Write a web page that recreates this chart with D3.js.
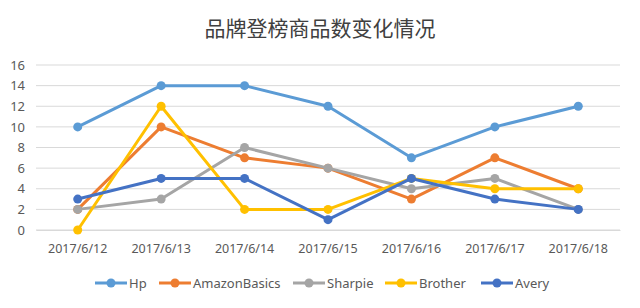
<!DOCTYPE html>
<html>
<head>
<meta charset="utf-8">
<script src="https://cdn.jsdelivr.net/npm/d3@7"></script>
<style>
  body { margin: 0; background: #fff; }
  text { font-family: "Noto Sans", "Noto Sans CJK SC", sans-serif; }
</style>
</head>
<body>
<svg id="chart"></svg>
<script>
const categories = ['2017/6/12','2017/6/13','2017/6/14','2017/6/15','2017/6/16','2017/6/17','2017/6/18'];
const hp = [10, 14, 14, 12, 7, 10, 12];
const amazonBasics = [2, 10, 7, 6, 3, 7, 4];
const sharpie = [2, 3, 8, 6, 4, 5, 2];
const brother = [0, 12, 2, 2, 5, 4, 4];
const avery = [3, 5, 5, 1, 5, 3, 2];
const yTicks = [0, 2, 4, 6, 8, 10, 12, 14, 16];

const series = [
    {name: 'Hp', values: hp, color: '#5b9bd5'},
    {name: 'AmazonBasics', values: amazonBasics, color: '#ed7d31'},
    {name: 'Sharpie', values: sharpie, color: '#a5a5a5'},
    {name: 'Brother', values: brother, color: '#ffc000'},
    {name: 'Avery', values: avery, color: '#4472c4'}
];

const w = 640, h = 308;
const m = {top: 65, right: 20, bottom: 78, left: 36};

const svg = d3.select('#chart')
    .attr('width', w)
    .attr('height', h);

// title
svg.append('text')
    .attr('x', 320)
    .attr('y', 36)
    .attr('text-anchor', 'middle')
    .style('font-family', '"Noto Sans CJK SC", sans-serif')
    .style('font-size', '21px')
    .attr('fill', '#404040')
    .text('品牌登榜商品数变化情况');

const xScale = d3.scaleBand()
    .domain(categories)
    .range([m.left, w - m.right]);

const yScale = d3.scaleLinear()
    .domain([0, 16])
    .range([h - m.bottom, m.top]);

// grid lines
svg.append('g')
    .selectAll('line')
    .data(yTicks)
    .join('line')
        .attr('x1', m.left)
        .attr('x2', w - m.right)
        .attr('y1', d => yScale(d))
        .attr('y2', d => yScale(d))
        .attr('stroke', '#d9d9d9')
        .attr('stroke-width', 1);

// y axis labels
const yAxis = d3.axisLeft(yScale).tickValues(yTicks).tickSize(0).tickPadding(11);
const gy = svg.append('g')
    .attr('transform', `translate(${m.left},0)`)
    .call(yAxis);
gy.select('.domain').remove();
gy.selectAll('text').style('font-size', '13px').attr('fill', '#595959');

// x axis
const xAxis = d3.axisBottom(xScale).tickSize(0).tickPadding(14);
const gx = svg.append('g')
    .attr('transform', `translate(0,${h - m.bottom})`)
    .call(xAxis);
gx.select('.domain').attr('stroke', '#d9d9d9');
gx.selectAll('text').style('font-size', '12.5px').attr('fill', '#595959');

// lines + markers
const line = d3.line()
    .x((v, i) => xScale(categories[i]) + xScale.bandwidth() / 2)
    .y(v => yScale(v));

series.forEach(s => {
    svg.append('path')
        .datum(s.values)
        .attr('d', line)
        .attr('fill', 'none')
        .attr('stroke', s.color)
        .attr('stroke-width', 3)
        .attr('stroke-linejoin', 'round');
    svg.append('g')
        .selectAll('circle')
        .data(s.values)
        .join('circle')
            .attr('cx', (v, i) => xScale(categories[i]) + xScale.bandwidth() / 2)
            .attr('cy', v => yScale(v))
            .attr('r', 4.5)
            .attr('fill', s.color);
});

// legend
const legendX = [95, 159, 293, 385, 481];
const legend = svg.append('g').attr('transform', `translate(0,${h - 25})`);
series.forEach((s, i) => {
    const g = legend.append('g').attr('transform', `translate(${legendX[i]},0)`);
    g.append('line')
        .attr('x1', 0).attr('x2', 32)
        .attr('stroke', s.color)
        .attr('stroke-width', 3);
    g.append('circle')
        .attr('cx', 16).attr('r', 4.5)
        .attr('fill', s.color);
    g.append('text')
        .attr('x', 34)
        .attr('dy', '0.35em')
        .style('font-size', '13px')
        .attr('fill', '#595959')
        .text(s.name);
});
</script>
</body>
</html>
